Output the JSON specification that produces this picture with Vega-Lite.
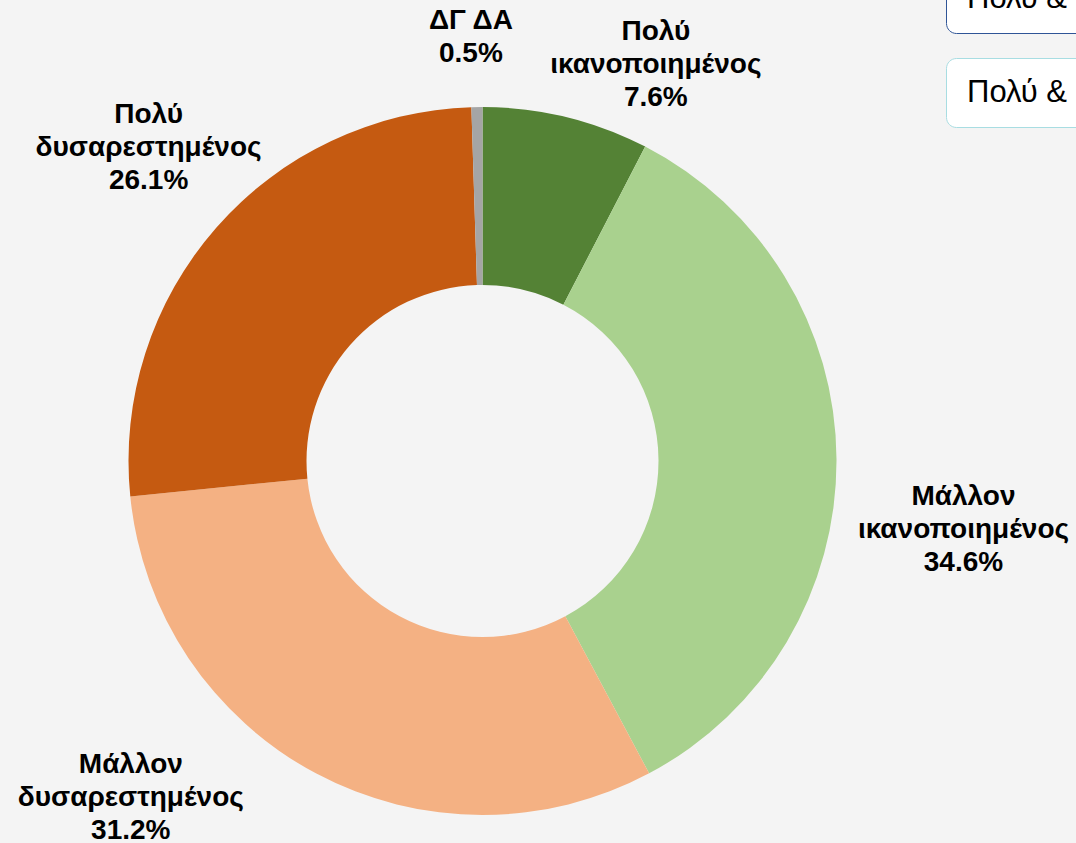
{
  "$schema": "https://vega.github.io/schema/vega-lite/v6.json",
  "width": 965,
  "height": 922,
  "autosize": {"type": "none"},
  "padding": {"left": 0, "top": 0, "right": 111, "bottom": 0},
  "background": "#F4F4F4",
  "config": {"view": {"stroke": null}},
  "data": {
    "values": [
      {"cat": "Πολύ ικανοποιημένος", "label": "Πολύ\nικανοποιημένος", "pct": 7.6, "rank": 1},
      {"cat": "Μάλλον ικανοποιημένος", "label": "Μάλλον\nικανοποιημένος", "pct": 34.6, "rank": 2},
      {"cat": "Μάλλον δυσαρεστημένος", "label": "Μάλλον\nδυσαρεστημένος", "pct": 31.2, "rank": 3},
      {"cat": "Πολύ δυσαρεστημένος", "label": "Πολύ\nδυσαρεστημένος", "pct": 26.1, "rank": 4},
      {"cat": "ΔΓ ΔΑ", "label": "ΔΓ ΔΑ", "pct": 0.5, "rank": 5}
    ]
  },
  "transform": [
    {"calculate": "datum.label + '\\n' + format(datum.pct, '.1f') + '%'", "as": "txt"},
    {"calculate": "'Πολύ & Μάλλον ικανοποιημένος: 42.2%'", "as": "box1"},
    {"calculate": "'Πολύ & Μάλλον δυσαρεστημένος: 57.3%'", "as": "box2"}
  ],
  "encoding": {
    "theta": {"field": "pct", "type": "quantitative", "stack": true},
    "order": {"field": "rank", "type": "quantitative"}
  },
  "resolve": {"scale": {"opacity": "independent"}, "legend": {"opacity": "independent"}},
  "layer": [
    {
      "mark": {"type": "arc", "innerRadius": 176, "outerRadius": 354},
      "encoding": {
        "color": {
          "field": "cat",
          "type": "nominal",
          "scale": {
            "domain": ["Πολύ ικανοποιημένος", "Μάλλον ικανοποιημένος", "Μάλλον δυσαρεστημένος", "Πολύ δυσαρεστημένος", "ΔΓ ΔΑ"],
            "range": ["#548235", "#A9D18E", "#F4B183", "#C55A11", "#A5A5A5"]
          },
          "legend": null
        },
        "opacity": {
          "field": "box2",
          "type": "nominal",
          "scale": {"range": [1]},
          "legend": {
            "title": null,
            "orient": "none",
            "legendX": 946,
            "legendY": 58,
            "padding": 19,
            "fillColor": "#FFFFFF",
            "strokeColor": "#A8DDE2",
            "cornerRadius": 10,
            "symbolSize": 0,
            "symbolOpacity": 0,
            "symbolStrokeWidth": 0,
            "labelOffset": -29,
            "labelFont": "Liberation Sans",
            "labelFontSize": 31,
            "labelColor": "#000000",
            "labelLimit": 2000,
            "encode": {
              "legend": {"update": {"strokeWidth": {"value": 2}}},
              "symbols": {"update": {"opacity": {"value": 0}, "fillOpacity": {"value": 0}}}
            }
          }
        }
      }
    },
    {
      "mark": {"type": "text", "radius": 420, "dx": -5, "dy": -20, "font": "Liberation Sans", "fontWeight": "bold", "fontSize": 28, "lineBreak": "\n", "lineHeight": 33, "align": "center", "baseline": "middle", "color": "#000000"},
      "encoding": {
        "text": {"condition": {"test": "datum.cat === 'ΔΓ ΔΑ'", "field": "txt"}, "value": ""},
        "opacity": {
          "field": "box1",
          "type": "nominal",
          "scale": {"range": [1]},
          "legend": {
            "title": null,
            "orient": "none",
            "legendX": 946,
            "legendY": -36,
            "padding": 19,
            "fillColor": "#FFFFFF",
            "strokeColor": "#2F5597",
            "cornerRadius": 10,
            "symbolSize": 0,
            "symbolOpacity": 0,
            "symbolStrokeWidth": 0,
            "labelOffset": -29,
            "labelFont": "Liberation Sans",
            "labelFontSize": 31,
            "labelColor": "#000000",
            "labelLimit": 2000,
            "encode": {
              "legend": {"update": {"strokeWidth": {"value": 2}}},
              "symbols": {"update": {"opacity": {"value": 0}, "fillOpacity": {"value": 0}}}
            }
          }
        }
      }
    },
    {
      "mark": {"type": "text", "radius": 420, "dx": 74, "dy": -21, "font": "Liberation Sans", "fontWeight": "bold", "fontSize": 28, "lineBreak": "\n", "lineHeight": 33, "align": "center", "baseline": "middle", "color": "#000000"},
      "encoding": {"text": {"condition": {"test": "datum.cat === 'Πολύ ικανοποιημένος'", "field": "txt"}, "value": ""}}
    },
    {
      "mark": {"type": "text", "radius": 420, "dx": 61, "dy": 39, "font": "Liberation Sans", "fontWeight": "bold", "fontSize": 28, "lineBreak": "\n", "lineHeight": 33, "align": "center", "baseline": "middle", "color": "#000000"},
      "encoding": {"text": {"condition": {"test": "datum.cat === 'Μάλλον ικανοποιημένος'", "field": "txt"}, "value": ""}}
    },
    {
      "mark": {"type": "text", "radius": 420, "dx": -154, "dy": -67, "font": "Liberation Sans", "fontWeight": "bold", "fontSize": 28, "lineBreak": "\n", "lineHeight": 33, "align": "center", "baseline": "middle", "color": "#000000"},
      "encoding": {"text": {"condition": {"test": "datum.cat === 'Μάλλον δυσαρεστημένος'", "field": "txt"}, "value": ""}}
    },
    {
      "mark": {"type": "text", "radius": 420, "dx": -18, "dy": -69, "font": "Liberation Sans", "fontWeight": "bold", "fontSize": 28, "lineBreak": "\n", "lineHeight": 33, "align": "center", "baseline": "middle", "color": "#000000"},
      "encoding": {"text": {"condition": {"test": "datum.cat === 'Πολύ δυσαρεστημένος'", "field": "txt"}, "value": ""}}
    }
  ]
}
